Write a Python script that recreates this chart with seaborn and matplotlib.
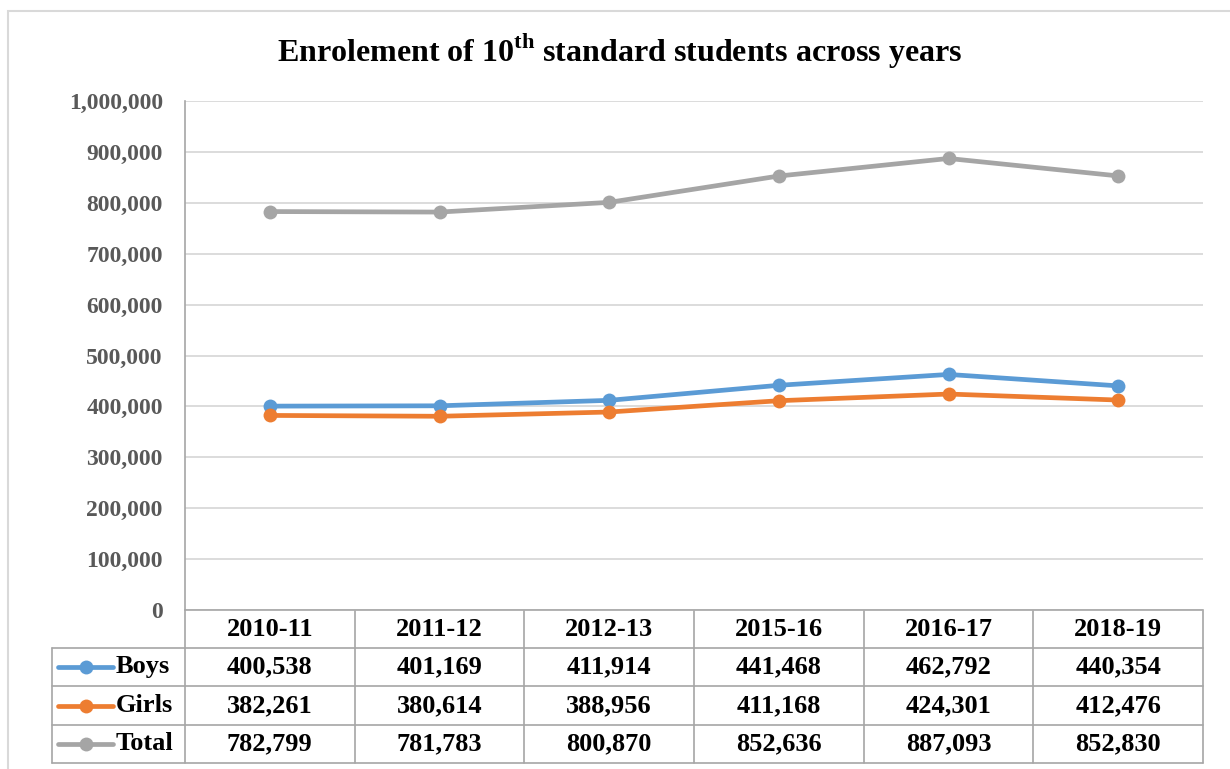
import pandas as pd
import matplotlib
matplotlib.use("Agg")
import matplotlib.pyplot as plt
import seaborn as sns
from matplotlib.lines import Line2D
from matplotlib.patches import Rectangle
from matplotlib.transforms import blended_transform_factory
from matplotlib.ticker import FuncFormatter, MultipleLocator

# Enrolment figures per academic year
years = ["2010-11", "2011-12", "2012-13", "2015-16", "2016-17", "2018-19"]
boys = [400538, 401169, 411914, 441468, 462792, 440354]
girls = [382261, 380614, 388956, 411168, 424301, 412476]
total = [782799, 781783, 800870, 852636, 887093, 852830]
series_names = ["Boys", "Girls", "Total"]
series_colors = ["#5B9BD5", "#ED7D31", "#A5A5A5"]

sns.set_style("white")
plt.rcParams["font.family"] = ["Liberation Serif", "DejaVu Serif"]
plt.rcParams["font.weight"] = "bold"
plt.rcParams["mathtext.fontset"] = "custom"
plt.rcParams["mathtext.rm"] = "Liberation Serif:bold"

W, H = 1230, 769
fig = plt.figure(figsize=(W / 100, H / 100), dpi=100)
fig.patch.set_facecolor("white")

# plot area (pixel layout)
left, right, top, bottom = 185, 1203, 101, 610
ax = fig.add_axes([left / W, 1 - bottom / H, (right - left) / W, (bottom - top) / H])

values = [boys, girls, total]
df = pd.DataFrame({
    "Year": years * 3,
    "Value": boys + girls + total,
    "Series": [s for s in series_names for _ in years],
})
sns.lineplot(data=df, x="Year", y="Value", hue="Series", hue_order=series_names,
             palette=dict(zip(series_names, series_colors)), marker="o",
             markersize=10, markeredgewidth=0, linewidth=3.4, sort=False,
             legend=False, ax=ax)

ax.set_xlim(-0.5, len(years) - 0.5)
ax.set_ylim(0, 1_000_000)
ax.yaxis.set_major_locator(MultipleLocator(100_000))
ax.yaxis.set_major_formatter(FuncFormatter(lambda v, _: f"{v:,.0f}"))
ax.yaxis.grid(True, color="#d9d9d9", linewidth=1.3)
ax.set_axisbelow(True)
ax.tick_params(axis="y", length=0, pad=16, labelsize=17, labelcolor="#595959")
ax.tick_params(axis="x", length=0, labelbottom=False)
ax.set_xlabel("")
ax.set_ylabel("")
for s in ("top", "right"):
    ax.spines[s].set_visible(False)
for s in ("left", "bottom"):
    ax.spines[s].set_color("#a6a6a6")
    ax.spines[s].set_linewidth(1.2)
for lbl in ax.get_yticklabels():
    lbl.set_fontweight("bold")

# outer chart border
fig.add_artist(Rectangle((7.5 / W, -0.1), 2, 1 - 10.5 / H + 0.1,
                         transform=fig.transFigure, fill=False,
                         edgecolor="#d9d9d9", linewidth=1.5))

# title
fig.text(620 / W, 1 - 50 / H,
         r"Enrolement of 10$^{\mathrm{th}}$ standard students across years",
         ha="center", va="center", fontsize=23, fontweight="bold", color="black")

# data table beneath the plot
def fy(p):
    return 1 - p / H

def fx(p):
    return p / W

tcol = blended_transform_factory(ax.transData, fig.transFigure)
grid_c, grid_w = "#a6a6a6", 1.2
row_edges = [611, 647.5, 686, 725, 763]
label_left = 52

for y in row_edges[1:]:
    fig.add_artist(Line2D([fx(label_left), fx(right)], [fy(y), fy(y)],
                          transform=fig.transFigure, color=grid_c, lw=grid_w))
fig.add_artist(Line2D([fx(label_left)] * 2, [fy(row_edges[1]), fy(row_edges[-1])],
                      transform=fig.transFigure, color=grid_c, lw=grid_w))
for i in range(len(years) + 1):
    fig.add_artist(Line2D([i - 0.5, i - 0.5], [fy(row_edges[0]), fy(row_edges[-1])],
                          transform=tcol, color=grid_c, lw=grid_w))

cell_fs = 19
hdr_y = fy((row_edges[0] + row_edges[1]) / 2)
for i, yr in enumerate(years):
    fig.text(i, hdr_y, yr, transform=tcol, ha="center", va="center",
             fontsize=cell_fs, fontweight="bold", color="black")

for r, (name, col, vals) in enumerate(zip(series_names, series_colors, values)):
    yc = fy((row_edges[r + 1] + row_edges[r + 2]) / 2)
    for i, v in enumerate(vals):
        fig.text(i, yc, f"{v:,}", transform=tcol, ha="center", va="center",
                 fontsize=cell_fs, fontweight="bold", color="black")
    fig.add_artist(Line2D([fx(58), fx(113)], [yc, yc], transform=fig.transFigure,
                          color=col, lw=3.4, solid_capstyle="round"))
    fig.add_artist(Line2D([fx(85.5)], [yc], transform=fig.transFigure, color=col,
                          marker="o", markersize=10, markeredgewidth=0))
    fig.text(fx(116), yc, name, ha="left", va="center", fontsize=cell_fs,
             fontweight="bold", color="black")

fig.savefig("out.png", dpi=100, facecolor="white")
